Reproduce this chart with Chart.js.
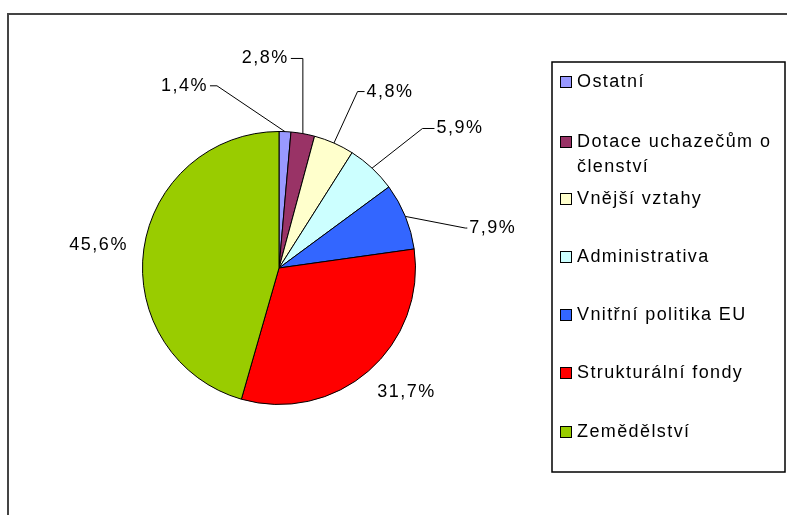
<!DOCTYPE html>
<html><head><meta charset="utf-8">
<script src="https://cdn.jsdelivr.net/npm/chart.js@4/dist/chart.umd.min.js"></script>
<style>html,body{margin:0;padding:0;background:#fff;}#wrap{width:787px;height:515px;position:relative;}</style>
</head><body><div id="wrap"><canvas id="c" width="787" height="515"></canvas></div>
<script>
const categories = ["Ostatní", "Dotace uchazečům o členství", "Vnější vztahy", "Administrativa", "Vnitřní politika EU", "Strukturální fondy", "Zemědělství"];
const legendLines = [["Ostatní"], ["Dotace uchazečům o", "členství"], ["Vnější vztahy"], ["Administrativa"], ["Vnitřní politika EU"], ["Strukturální fondy"], ["Zemědělství"]];
const shares = [1.4, 2.8, 4.8, 5.9, 7.9, 31.7, 45.6];
const valueLabels = ["1,4%", "2,8%", "4,8%", "5,9%", "7,9%", "31,7%", "45,6%"];
const colors = ["#9999ff", "#993366", "#ffffcc", "#ccffff", "#3366ff", "#ff0000", "#99cc00"];

// label placement: elbow in polar coords (deg from top, factor of radius)
const labelLayout = [
  {ang: -18.8, rf: 1.41, align: 'right', hseg: -7, leader: true},
  {ang: 6.5, rf: 1.545, align: 'right', hseg: -12, leader: true},
  {ang: 24.0, rf: 1.415, align: 'left', hseg: 7, leader: true},
  {ang: 45.8, rf: 1.466, align: 'left', hseg: 12, leader: true},
  {ang: 77.9, rf: 1.396, align: 'left', hseg: 2, leader: true},
  {ang: 134.3, rf: 1.306, align: 'center', leader: false},
  {ang: 277.2, rf: 1.332, align: 'center', leader: false}
];

const FONT = '18px "Liberation Sans", Arial, sans-serif';

const framePlugin = {
  id: 'frame',
  beforeDraw(chart) {
    const ctx = chart.ctx;
    ctx.save();
    ctx.strokeStyle = '#444';
    ctx.lineWidth = 2;
    ctx.beginPath();
    ctx.moveTo(8, 515); ctx.lineTo(8, 14); ctx.lineTo(787, 14);
    ctx.stroke();
    ctx.restore();
  }
};

const labelPlugin = {
  id: 'pielabels',
  afterDatasetsDraw(chart) {
    const ctx = chart.ctx;
    const meta = chart.getDatasetMeta(0);
    ctx.save();
    ctx.font = FONT;
    ctx.letterSpacing = '1.5px';
    ctx.fillStyle = '#000';
    ctx.strokeStyle = '#000';
    ctx.lineWidth = 1;
    ctx.textBaseline = 'middle';
    meta.data.forEach((arc, i) => {
      const p = arc.getProps(['x','y','startAngle','endAngle','outerRadius'], true);
      const mid = (p.startAngle + p.endAngle) / 2;
      const L = labelLayout[i];
      const a = (L.ang - 90) * Math.PI / 180;
      const ex = p.x + Math.cos(a) * p.outerRadius * L.rf;
      const ey = p.y + Math.sin(a) * p.outerRadius * L.rf;
      if (L.leader) {
        const sx = p.x + Math.cos(mid) * p.outerRadius;
        const sy = p.y + Math.sin(mid) * p.outerRadius;
        ctx.beginPath();
        ctx.moveTo(sx, sy); ctx.lineTo(ex, ey); ctx.lineTo(ex + L.hseg, ey);
        ctx.stroke();
        ctx.textAlign = L.align;
        const tx = ex + L.hseg + (L.align === 'left' ? 2 : -2);
        ctx.fillText(valueLabels[i], tx, ey);
      } else {
        ctx.textAlign = 'center';
        ctx.fillText(valueLabels[i], ex, ey);
      }
    });
    ctx.restore();
  }
};

const legendPlugin = {
  id: 'boxlegend',
  afterDraw(chart) {
    const ctx = chart.ctx;
    ctx.save();
    const bx = 552, by = 62, bw = 233, bh = 410;
    ctx.strokeStyle = '#000';
    ctx.lineWidth = 1.5;
    ctx.strokeRect(bx, by, bw, bh);
    ctx.font = FONT;
    ctx.letterSpacing = '1.4px';
    ctx.textBaseline = 'middle';
    ctx.textAlign = 'left';
    const rowY = [82, 142, 199, 257, 315, 373, 432];
    legendLines.forEach((lines, i) => {
      const y = rowY[i];
      ctx.fillStyle = colors[i];
      ctx.fillRect(560, y - 6, 12, 12);
      ctx.strokeStyle = '#000';
      ctx.lineWidth = 1;
      ctx.strokeRect(560.5, y - 5.5, 11, 11);
      ctx.fillStyle = '#000';
      lines.forEach((t, j) => ctx.fillText(t, 577, y + j * 25));
    });
    ctx.restore();
  }
};

new Chart(document.getElementById('c'), {
  type: 'pie',
  data: {
    labels: categories,
    datasets: [{
      data: shares,
      backgroundColor: colors,
      borderColor: '#000',
      borderWidth: 1
    }]
  },
  options: {
    responsive: false,
    animation: false,
    events: [],
    layout: {padding: {left: 142, right: 371, top: 131, bottom: 110}},
    plugins: {legend: {display: false}, tooltip: {enabled: false}, title: {display: false}}
  },
  plugins: [framePlugin, labelPlugin, legendPlugin]
});
</script>
</body></html>
